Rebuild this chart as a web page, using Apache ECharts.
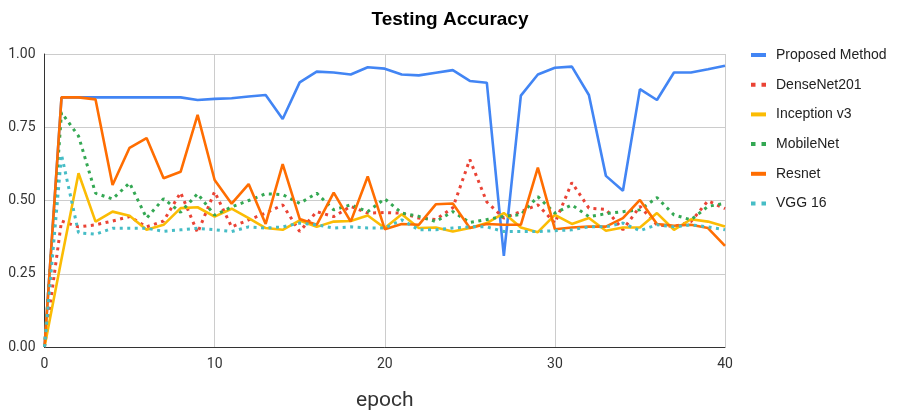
<!DOCTYPE html>
<html>
<head>
<meta charset="utf-8">
<script src="https://cdn.jsdelivr.net/npm/echarts@6/dist/echarts.min.js"></script>
<style>html,body{margin:0;padding:0;background:#fff}#c{width:900px;height:413px}</style>
</head>
<body>
<div id="c"></div>
<script>
var epochs = [0,1,2,3,4,5,6,7,8,9,10,11,12,13,14,15,16,17,18,19,20,21,22,23,24,25,26,27,28,29,30,31,32,33,34,35,36,37,38,39,40];
var seriesNames = ["Proposed Method","DenseNet201","Inception v3","MobileNet","Resnet","VGG 16"];
var proposed = [0,0.852,0.852,0.852,0.852,0.852,0.852,0.852,0.852,0.843,0.847,0.849,0.855,0.86,0.778,0.903,0.94,0.937,0.93,0.955,0.95,0.93,0.927,0.936,0.945,0.908,0.902,0.311,0.858,0.93,0.953,0.957,0.86,0.584,0.533,0.88,0.843,0.937,0.937,0.948,0.96];
var densenet = [0,0.43,0.41,0.417,0.43,0.445,0.41,0.43,0.527,0.39,0.53,0.41,0.434,0.457,0.485,0.394,0.462,0.445,0.48,0.457,0.459,0.457,0.44,0.435,0.475,0.64,0.495,0.44,0.462,0.485,0.423,0.561,0.474,0.47,0.40,0.48,0.417,0.411,0.428,0.499,0.472];
var inception = [0,0.30,0.593,0.428,0.462,0.448,0.40,0.417,0.474,0.477,0.445,0.472,0.44,0.406,0.40,0.432,0.41,0.428,0.43,0.449,0.406,0.453,0.406,0.408,0.394,0.406,0.423,0.457,0.408,0.392,0.451,0.42,0.44,0.397,0.408,0.408,0.457,0.40,0.436,0.428,0.411];
var mobilenet = [0,0.80,0.72,0.525,0.505,0.56,0.44,0.506,0.46,0.523,0.45,0.478,0.50,0.523,0.52,0.49,0.525,0.468,0.485,0.462,0.506,0.457,0.446,0.428,0.462,0.425,0.435,0.446,0.452,0.513,0.457,0.485,0.445,0.455,0.462,0.468,0.51,0.451,0.434,0.48,0.49];
var resnet = [0,0.852,0.852,0.845,0.553,0.68,0.713,0.576,0.598,0.792,0.57,0.489,0.556,0.42,0.624,0.437,0.417,0.527,0.428,0.582,0.402,0.42,0.417,0.487,0.49,0.406,0.42,0.417,0.417,0.612,0.402,0.408,0.411,0.411,0.44,0.502,0.42,0.414,0.417,0.406,0.345];
var vgg = [0,0.656,0.39,0.385,0.405,0.405,0.405,0.395,0.40,0.405,0.40,0.394,0.41,0.406,0.41,0.423,0.417,0.406,0.41,0.406,0.406,0.434,0.40,0.40,0.406,0.41,0.41,0.394,0.394,0.394,0.397,0.40,0.41,0.41,0.423,0.397,0.417,0.41,0.417,0.41,0.40];
var colors = ["#4285F4","#EA4335","#FBBC04","#34A853","#FF6D01","#46BDC6"];
var dotted = [false,true,false,true,false,true];
var allData = [proposed,densenet,inception,mobilenet,resnet,vgg];

function pairs(arr){ return arr.map(function(v,i){ return [epochs[i], v]; }); }

var series = seriesNames.map(function(n,i){
  return {
    name: n, type: 'line', data: pairs(allData[i]), symbol: 'none', showSymbol: false,
    lineStyle: { color: colors[i], width: dotted[i] ? 3 : 2.6, type: dotted[i] ? [3,4.5] : 'solid', cap: 'butt' },
    itemStyle: { color: colors[i] },
    animation: false
  };
});

var solidIcon = 'path://M0,0h15v4h-15z';
var dotIcon = 'path://M0,0h4.5v4h-4.5zM10.5,0h4.5v4h-4.5z';

var chart = echarts.init(document.getElementById('c'), null, {renderer:'canvas'});
chart.setOption({
  animation: false,
  color: colors,
  title: { text: 'Testing Accuracy', left: 'center', top: 5,
    textStyle: { fontFamily: 'Liberation Sans', fontWeight: 'bold', fontSize: 19, color: '#000' } },
  legend: {
    orient: 'vertical', left: 751, top: 48, itemWidth: 15, itemHeight: 4, itemGap: 15.7, padding: 0,
    textStyle: { fontFamily: 'Liberation Sans', fontSize: 14, color: '#222', lineHeight: 14, padding: [0,0,0,5] },
    data: seriesNames.map(function(n,i){ return { name: n, icon: dotted[i] ? dotIcon : solidIcon }; })
  },
  grid: { left: 44.5, right: 175, top: 54, bottom: 66, containLabel: false, outerBoundsMode: 'none' },
  xAxis: {
    type: 'value', min: 0, max: 40, interval: 10,
    name: 'epoch', nameLocation: 'middle', nameGap: 43,
    nameTextStyle: { fontFamily: 'Roboto', fontSize: 21, color: '#333' },
    axisLine: { show: true, lineStyle: { color: '#333', width: 1 } },
    axisTick: { show: false },
    axisLabel: { fontFamily: 'Roboto', fontSize: 14, color: '#333', margin: 10 },
    splitLine: { show: true, lineStyle: { color: '#cccccc', width: 1 } }
  },
  yAxis: {
    type: 'value', min: 0, max: 1, interval: 0.25,
    axisLine: { show: true, lineStyle: { color: '#333', width: 1 } },
    axisTick: { show: false },
    axisLabel: { fontFamily: 'Roboto', fontSize: 14, color: '#333', margin: 9,
      formatter: function(v){ return v.toFixed(2); } },
    splitLine: { show: true, lineStyle: { color: '#cccccc', width: 1 } }
  },
  series: series
});
</script>
</body>
</html>
